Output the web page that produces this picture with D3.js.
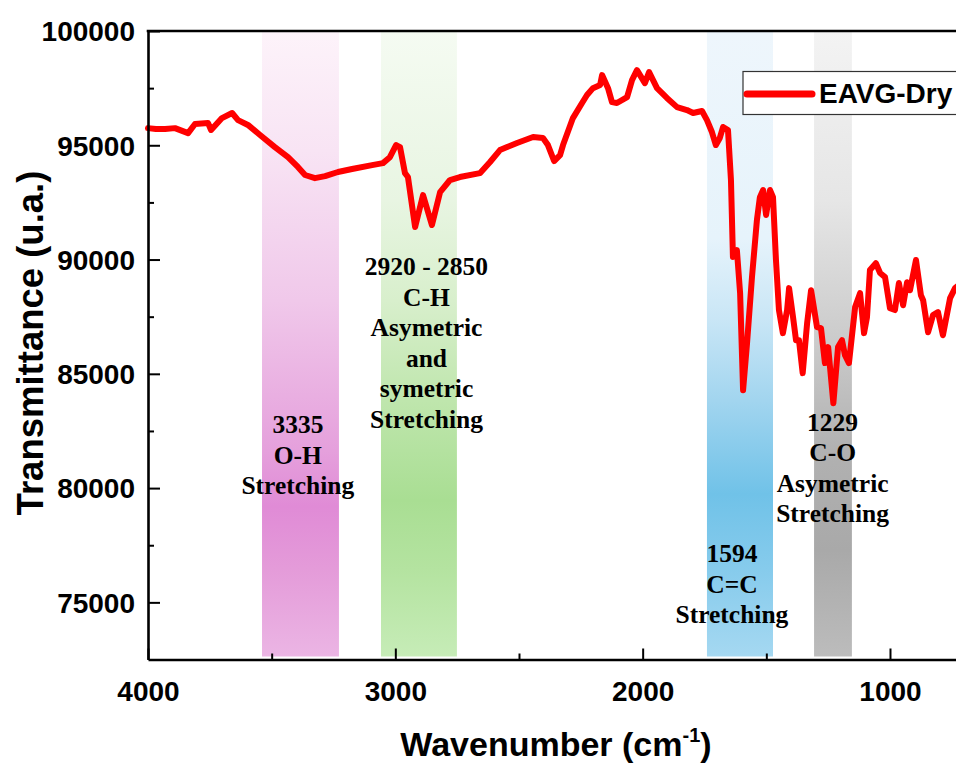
<!DOCTYPE html>
<html>
<head>
<meta charset="utf-8">
<script src="https://cdn.jsdelivr.net/npm/d3@7"></script>
<style>
  html, body { margin: 0; padding: 0; background: #fff; }
  svg { display: block; }
</style>
</head>
<body>
<svg id="chart" width="956" height="765"></svg>
<script>
// FTIR spectrum of the dried EAVG sample
const wavenumber = [
  4000, 3968, 3931, 3891, 3838, 3810, 3757, 3745, 3701, 3660, 3636, 3596, 3547, 3487,
  3434, 3394, 3365, 3325, 3284, 3232, 3175, 3094, 3050, 3022, 2997, 2981, 2961, 2949,
  2920, 2888, 2852, 2819, 2779, 2739, 2658, 2617, 2577, 2548, 2508, 2443, 2403, 2383,
  2358, 2334, 2322, 2282, 2245, 2225, 2201, 2172, 2164, 2140, 2124, 2104, 2063, 2043,
  2023, 1991, 1974, 1942, 1902, 1861, 1821, 1796, 1760, 1740, 1720, 1704, 1688, 1675,
  1655, 1643, 1635, 1619, 1606, 1594, 1578, 1558, 1538, 1526, 1513, 1501, 1485, 1473,
  1461, 1449, 1433, 1416, 1408, 1392, 1380, 1368, 1353, 1335, 1319, 1295, 1279, 1263,
  1250, 1229, 1210, 1194, 1182, 1166, 1141, 1121, 1105, 1093, 1081, 1057, 1040, 1020,
  1000, 980, 964, 947, 931, 919, 895, 875, 866, 846, 826, 806, 786, 757, 737, 720
];
const transmittance = [
  95750, 95710, 95710, 95750, 95530, 95930, 95970, 95670, 96190, 96410, 96100, 95890, 95450, 94920,
  94480, 94050, 93700, 93560, 93650, 93830, 93960, 94130, 94220, 94480, 95010, 94920, 93780, 93610,
  91420, 92820, 91510, 92950, 93480, 93610, 93780, 94270, 94790, 94920, 95100, 95360, 95320, 95010,
  94310, 94570, 95010, 96190, 96850, 97200, 97500, 97640, 98070, 97500, 96890, 96850, 97110, 97850,
  98290, 97720, 98200, 97500, 97070, 96670, 96540, 96410, 96500, 96100, 95580, 95010, 95320, 95800,
  95670, 93480, 90110, 90410, 88530, 84280, 86340, 89230, 91730, 92730, 93040, 91950, 93040, 92730,
  89970, 87790, 86780, 87790, 88750, 87480, 86470, 86470, 85030, 87220, 88660, 87040, 87000, 85470,
  86170, 83710, 86170, 86470, 85820, 85470, 87920, 88530, 86780, 87480, 89540, 89840, 89410, 89230,
  87870, 87790, 88970, 88000, 89010, 88660, 89980, 88440, 88220, 86820, 87570, 87700, 86690, 88310, 88750, 88900
];

// Absorption bands: start / end wavenumber and annotation lines
const bandStart = [3539, 3058, 1740, 1307];
const bandEnd   = [3228, 2751, 1473, 1154];
const bandLabels = [
  ["3335", "O-H", "Stretching"],
  ["2920 - 2850", "C-H", "Asymetric", "and", "symetric", "Stretching"],
  ["1594", "C=C", "Stretching"],
  ["1229", "C-O", "Asymetric", "Stretching"]
];
const bandLabelTop = [433, 275, 562, 430.5];   // baseline of first line (px)
const bandLabelCenter = [3394, 2874, 1639, 1232]; // wavenumber under each text block

// Vertical colour ramps for each band (offset, colour)
const bandRamps = [
  [[0, "#fdf3fa"], [0.19, "#f8e4f4"], [0.43, "#f0c8ea"], [0.67, "#e5a0dc"], [0.76, "#e08bd6"], [0.86, "#e49bd9"], [1, "#ebb5e4"]],
  [[0, "#f5fbf2"], [0.27, "#e8f5e2"], [0.43, "#d8efcc"], [0.59, "#bfe6ad"], [0.75, "#a9de93"], [0.86, "#b4e3a0"], [1, "#c6ecb7"]],
  [[0, "#eef6fc"], [0.33, "#e6f3fb"], [0.46, "#c9e6f6"], [0.59, "#a2d5ef"], [0.74, "#70c2e8"], [0.86, "#86cbec"], [1, "#a5d8f1"]],
  [[0, "#f3f3f3"], [0.27, "#e6e6e6"], [0.51, "#c9c9c9"], [0.67, "#b1b1b1"], [0.83, "#a9a9a9"], [1, "#bcbcbc"]]
];

const yMajorTicks = [75000, 80000, 85000, 90000, 95000, 100000];
const yMinorTicks = [77500, 82500, 87500, 92500, 97500];
const xMajorTicks = [4000, 3000, 2000, 1000];
const xMinorTicks = [3500, 2500, 1500];

const seriesName = "EAVG-Dry";

const svg = d3.select("#chart");
const plotLeft = 148, plotTop = 31, plotBottom = 659.5;

const x = d3.scaleLinear().domain([4000, 400]).range([plotLeft, plotLeft + 3600 * 0.24733]);
const y = d3.scaleLinear().domain([72500, 100000]).range([plotBottom, plotTop]);

// Gradients
const defs = svg.append("defs");
bandRamps.forEach((ramp, i) => {
  const g = defs.append("linearGradient")
    .attr("id", "band" + i)
    .attr("x1", 0).attr("y1", 0).attr("x2", 0).attr("y2", 1);
  ramp.forEach(([o, c]) => g.append("stop").attr("offset", o).attr("stop-color", c));
});

// Bands
svg.append("g").selectAll("rect")
  .data(bandStart)
  .join("rect")
  .attr("x", (d) => x(d))
  .attr("width", (d, i) => x(bandEnd[i]) - x(d))
  .attr("y", plotTop + 1)
  .attr("height", plotBottom - plotTop - 4)
  .attr("fill", (d, i) => `url(#band${i})`);

// Spectrum
const line = d3.line()
  .x((d, i) => x(wavenumber[i]))
  .y((d) => y(d));

svg.append("path")
  .datum(transmittance)
  .attr("d", line)
  .attr("fill", "none")
  .attr("stroke", "#ff0000")
  .attr("stroke-width", 6)
  .attr("stroke-linejoin", "round")
  .attr("stroke-linecap", "round");

// Band annotations
const ann = svg.append("g")
  .attr("font-family", "'Liberation Serif', 'Times New Roman', serif")
  .attr("font-weight", "bold")
  .attr("font-size", 25.5)
  .attr("fill", "#000")
  .attr("text-anchor", "middle");
bandLabels.forEach((lines, i) => {
  lines.forEach((t, j) => {
    ann.append("text")
      .attr("x", x(bandLabelCenter[i]))
      .attr("y", bandLabelTop[i] + j * 30.6)
      .text(t);
  });
});

// Axes
const axisFont = "'Liberation Sans', Arial, sans-serif";

const yAxis = svg.append("g")
  .attr("transform", `translate(${plotLeft},0)`)
  .call(d3.axisLeft(y).tickValues(yMajorTicks).tickSize(-12).tickSizeOuter(0).tickPadding(13).tickFormat(d3.format("d")));
svg.append("g")
  .attr("transform", `translate(${plotLeft},0)`)
  .call(d3.axisLeft(y).tickValues(yMinorTicks).tickSize(-6).tickSizeOuter(0).tickFormat(""))
  .call(g => g.select(".domain").remove());

const xAxis = svg.append("g")
  .attr("transform", `translate(0,${plotBottom})`)
  .call(d3.axisBottom(x).tickValues(xMajorTicks).tickSize(-11).tickSizeOuter(0).tickPadding(22).tickFormat(d3.format("d")));
svg.append("g")
  .attr("transform", `translate(0,${plotBottom})`)
  .call(d3.axisBottom(x).tickValues(xMinorTicks).tickSize(-6).tickSizeOuter(0).tickFormat(""))
  .call(g => g.select(".domain").remove());

svg.selectAll(".domain").attr("stroke", "#000").attr("stroke-width", 2.6);
svg.selectAll(".tick line").attr("stroke", "#000").attr("stroke-width", 2);
svg.selectAll(".tick text")
  .attr("font-family", axisFont)
  .attr("font-weight", "bold")
  .attr("font-size", 28)
  .attr("fill", "#000");
yAxis.selectAll(".tick text").attr("dy", "0.35em");

// Top frame line
svg.append("line")
  .attr("x1", plotLeft - 1.3).attr("x2", x(400))
  .attr("y1", plotTop).attr("y2", plotTop)
  .attr("stroke", "#000").attr("stroke-width", 2.6);

// Axis titles
svg.append("text")
  .attr("transform", `translate(43,343) rotate(-90)`)
  .attr("text-anchor", "middle")
  .attr("font-family", axisFont)
  .attr("font-weight", "bold")
  .attr("font-size", 36.5)
  .text("Transmittance (u.a.)");

const xt = svg.append("text")
  .attr("x", 556)
  .attr("y", 756)
  .attr("text-anchor", "middle")
  .attr("font-family", axisFont)
  .attr("font-weight", "bold")
  .attr("font-size", 34);
xt.append("tspan").text("Wavenumber (cm");
xt.append("tspan").attr("font-size", 20).attr("dy", -14).text("-1");
xt.append("tspan").attr("dy", 14).text(")");

// Legend
const legend = svg.append("g");
legend.append("rect")
  .attr("x", 743).attr("y", 71.5)
  .attr("width", 260).attr("height", 43)
  .attr("fill", "#fff")
  .attr("stroke", "#333").attr("stroke-width", 1.2);
legend.append("line")
  .attr("x1", 747).attr("x2", 812)
  .attr("y1", 94).attr("y2", 94)
  .attr("stroke", "#ff0000").attr("stroke-width", 7)
  .attr("stroke-linecap", "round");
legend.append("text")
  .attr("x", 819).attr("y", 103)
  .attr("font-family", axisFont)
  .attr("font-weight", "bold")
  .attr("font-size", 28)
  .text(seriesName);
</script>
</body>
</html>
